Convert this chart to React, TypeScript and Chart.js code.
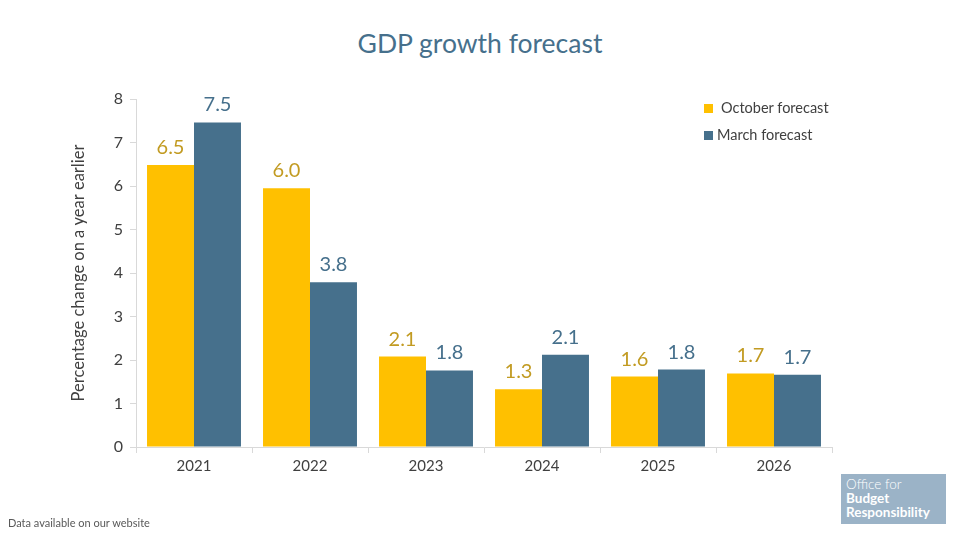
import React, { useEffect, useRef } from 'react';
import { Chart, registerables } from 'chart.js';

Chart.register(...registerables);

const years = ['2021', '2022', '2023', '2024', '2025', '2026'];
const octoberForecast = [6.48, 5.95, 2.08, 1.33, 1.62, 1.69];
const marchForecast = [7.46, 3.79, 1.76, 2.12, 1.78, 1.66];
const yTicks = [0, 1, 2, 3, 4, 5, 6, 7, 8];

const YELLOW = '#FFC000';
const BLUE = '#46708C';
const YELLOW_TEXT = '#C29B22';
const BLUE_TEXT = '#46708C';
const FONT = 'Lato, "Noto Sans", sans-serif';

// draws the value above every bar
const barLabels = {
  id: 'barLabels',
  afterDatasetsDraw(chart: any) {
    const ctx = chart.ctx;
    ctx.save();
    ctx.font = `20px ${FONT}`;
    ctx.textAlign = 'center';
    ctx.textBaseline = 'alphabetic';
    chart.data.datasets.forEach((ds: any, i: number) => {
      const meta = chart.getDatasetMeta(i);
      ctx.fillStyle = i === 0 ? YELLOW_TEXT : BLUE_TEXT;
      meta.data.forEach((bar: any, j: number) => {
        ctx.fillText(Number(ds.data[j]).toFixed(1), bar.x, bar.y - 11);
      });
    });
    ctx.restore();
  },
};

const GdpChart: React.FC = () => {
  const chartRef = useRef<HTMLCanvasElement>(null);

  useEffect(() => {
    if (!chartRef.current) return;
    const chartInstance = new Chart(chartRef.current, {
      type: 'bar',
      data: {
        labels: years,
        datasets: [
          { label: 'October forecast', data: octoberForecast, backgroundColor: YELLOW },
          { label: 'March forecast', data: marchForecast, backgroundColor: BLUE },
        ],
      },
      options: {
        animation: false,
        responsive: false,
        layout: { padding: { left: 64, top: 99, right: 128, bottom: 51 } },
        datasets: { bar: { barPercentage: 1, categoryPercentage: 0.81 } },
        plugins: {
          legend: { display: false },
          tooltip: { enabled: false },
        },
        scales: {
          x: {
            grid: { drawOnChartArea: false, tickLength: 6, color: '#D9D9D9', offset: true },
            border: { color: '#D9D9D9' },
            ticks: { color: '#404040', font: { family: FONT, size: 15 }, padding: 4 },
            afterFit: (s: any) => { s.height = 40; },
          },
          y: {
            min: 0,
            max: 8,
            afterBuildTicks: (s: any) => { s.ticks = yTicks.map((v) => ({ value: v })); },
            grid: { drawOnChartArea: false, tickLength: 6, color: '#D9D9D9' },
            border: { color: '#D9D9D9' },
            ticks: { color: '#404040', font: { family: FONT, size: 16 }, padding: 7 },
            title: {
              display: true,
              text: 'Percentage change on a year earlier',
              color: '#404040',
              font: { family: FONT, size: 16.5 },
              padding: { top: 5, bottom: 0 },
            },
            afterFit: (s: any) => { s.width = 72; },
          },
        },
      },
      plugins: [barLabels],
    });

    return () => {
      chartInstance.destroy();
    };
  }, []);

  return <canvas ref={chartRef} width={960} height={538} style={{ position: 'absolute', left: 0, top: 0 }} />;
};

const App: React.FC = () => {
  return (
    <div style={{ position: 'fixed', left: 0, top: 0, width: 960, height: 538, background: '#fff', fontFamily: FONT, overflow: 'hidden' }}>
      <div style={{ position: 'absolute', top: 27, left: 0, width: 960, textAlign: 'center', fontSize: 26.5, color: '#46708C' }}>
        GDP growth forecast
      </div>
      <GdpChart />
      <div style={{ position: 'absolute', left: 704, top: 94, fontSize: 14.5, color: '#404040', lineHeight: '27px' }}>
        <div><span style={{ display: 'inline-block', width: 9, height: 9, background: YELLOW, marginRight: 8 }} />October forecast</div>
        <div><span style={{ display: 'inline-block', width: 9, height: 9, background: BLUE, marginRight: 4 }} />March forecast</div>
      </div>
      <div style={{ position: 'absolute', left: 8, top: 516, fontSize: 11, color: '#595959' }}>
        Data available on our website
      </div>
      <div style={{ position: 'absolute', left: 841, top: 474, width: 105, height: 50, background: '#9BB3C7', color: '#fff', fontSize: 13.5, lineHeight: '14px', padding: '3px 0 0 5px', boxSizing: 'border-box' }}>
        <div style={{ fontWeight: 300 }}>Office for</div>
        <div style={{ fontWeight: 700 }}>Budget</div>
        <div style={{ fontWeight: 700 }}>Responsibility</div>
      </div>
    </div>
  );
};

export default App;
